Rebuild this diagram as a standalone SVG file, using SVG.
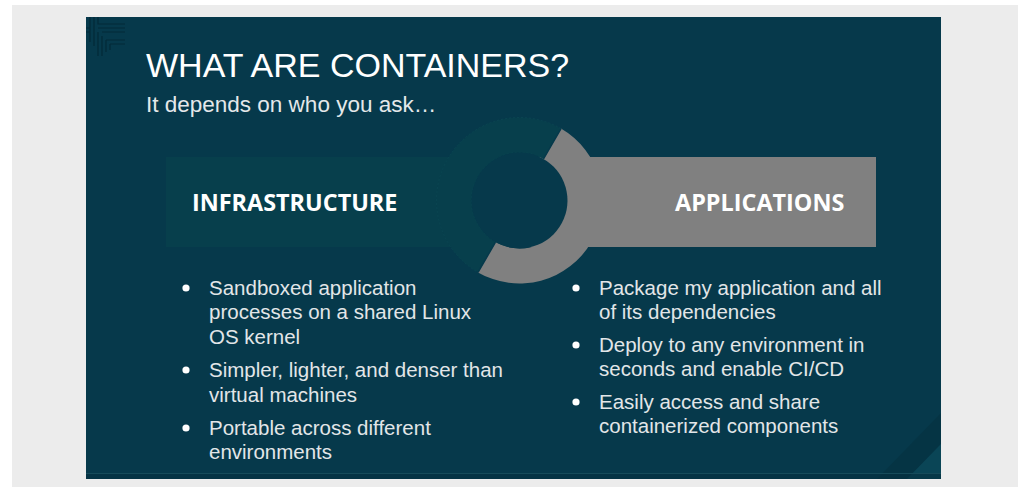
<svg xmlns="http://www.w3.org/2000/svg" width="1018" height="487" viewBox="0 0 1018 487">
<style>
.title{font-family:"Liberation Sans",Arial,sans-serif;fill:#ffffff}
.sub{font-family:"Liberation Sans",Arial,sans-serif;fill:#e4e8ea;font-size:22.5px}
.hdr{font-family:"Open Sans","Liberation Sans",sans-serif;font-weight:700;font-size:23.4px;fill:#ffffff}
.body{font-family:"Liberation Sans",Arial,sans-serif;font-size:20.5px;fill:#e2e6e8}
.dot{fill:#ffffff}
.pat{fill:none;stroke:#032a38;stroke-width:1.2}
</style>
<rect x="0" y="0" width="1018" height="487" fill="#ffffff"/>
<rect x="12" y="5" width="1006" height="482" fill="#ececec"/>
<g id="slide">
<rect x="86" y="17" width="855" height="462" fill="#06394b"/>
<polygon points="877,479 941,413 941,444 907,479" fill="#053444"/>
<polygon points="907,479 941,444 941,479" fill="#0a4556"/>
<line x1="86" y1="473.5" x2="941" y2="473.5" stroke="#164b5a" stroke-width="1"/>
<rect x="86" y="474" width="855" height="5" fill="#05303f" opacity="0.6"/>
<g id="corner-pattern">
<path class="pat" d="M90,17 V42 M94,17 V46 M86,28 H90 M86,32 H90"/>
<path class="pat" d="M98,17 V24 H125 M98,28 H125"/>
<path class="pat" d="M98,32 V56 M102,32 H125 M102,36 V56 M106,40 H125 M106,40 V52 M110,44 H125 M110,44 V50"/>
</g>
</g>
<g id="title">
<text class="title" x="146" y="77" font-size="34">WHAT ARE CONTAINERS?</text>
<text class="sub" x="146" y="112">It depends on who you ask…</text>
</g>
<g id="infrastructure">
<rect x="166" y="157" width="354" height="90" fill="#073f4c"/>
<text class="hdr" x="192" y="211">INFRASTRUCTURE</text>
</g>
<g id="applications">
<rect x="519" y="157" width="357" height="90" fill="#808080"/>
<text class="hdr" x="675" y="211">APPLICATIONS</text>
</g>
<g id="ring">
<path d="M561,128.6 A83,83 0 0 0 478,272.4 L495.5,242.1 A48,48 0 0 1 543.5,158.9 Z" fill="#073f4c" stroke="#0d4a56" stroke-width="0.6" stroke-dasharray="2 2"/>
<path d="M561,128.6 A83,83 0 0 1 478,272.4 L495.5,242.1 A48,48 0 0 0 543.5,158.9 Z" fill="#808080"/>
<path d="M561,128.6 L543.5,158.9 M478,272.4 L495.5,242.1" stroke="#06394b" stroke-width="1.5" fill="none"/>
<circle cx="519.5" cy="200.5" r="48" fill="#06394b"/>
</g>
<g id="infra-bullets">
<circle class="dot" cx="186" cy="288" r="3.6"/>
<text class="body" x="209" y="295">Sandboxed application</text>
<text class="body" x="209" y="319">processes on a shared Linux</text>
<text class="body" x="209" y="344">OS kernel</text>
<circle class="dot" cx="186" cy="370" r="3.6"/>
<text class="body" x="209" y="377">Simpler, lighter, and denser than</text>
<text class="body" x="209" y="402">virtual machines</text>
<circle class="dot" cx="186" cy="428" r="3.6"/>
<text class="body" x="209" y="435">Portable across different</text>
<text class="body" x="209" y="459">environments</text>
</g>
<g id="app-bullets">
<circle class="dot" cx="576" cy="288" r="3.6"/>
<text class="body" x="599" y="295">Package my application and all</text>
<text class="body" x="599" y="319">of its dependencies</text>
<circle class="dot" cx="576" cy="345" r="3.6"/>
<text class="body" x="599" y="352">Deploy to any environment in</text>
<text class="body" x="599" y="376">seconds and enable CI/CD</text>
<circle class="dot" cx="576" cy="402" r="3.6"/>
<text class="body" x="599" y="409">Easily access and share</text>
<text class="body" x="599" y="433">containerized components</text>
</g>
<g id="connectors"/>
</svg>
